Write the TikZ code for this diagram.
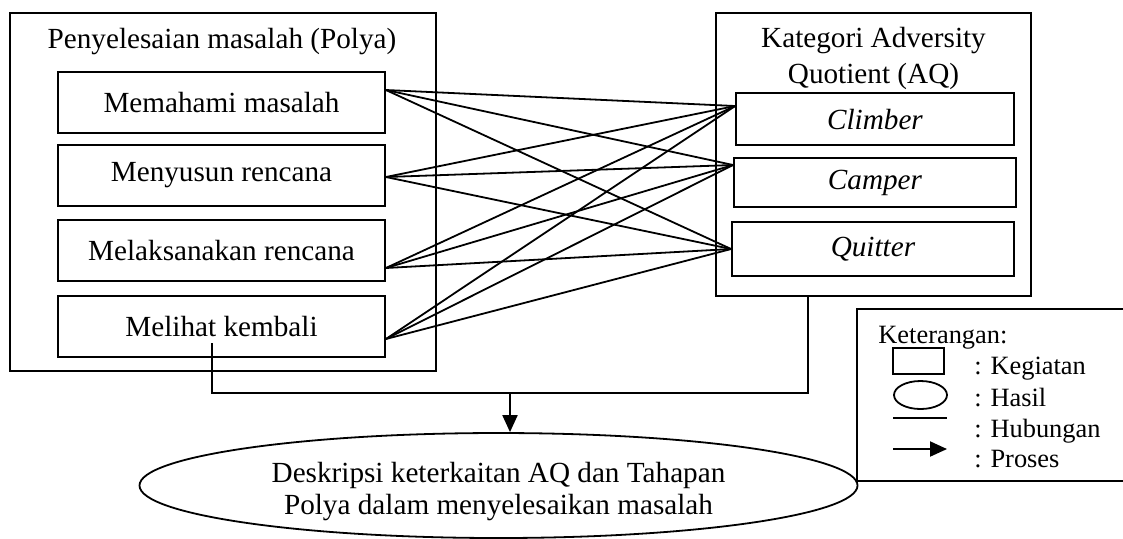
\documentclass[tikz,border=0pt]{standalone}
\usepackage{fontspec}
\setmainfont{Liberation Serif}
\usetikzlibrary{shapes.geometric,arrows.meta}

\tikzset{
    kotak/.style={draw, line width=0.9pt, inner sep=0pt},
    hasil/.style={draw, ellipse, line width=0.9pt, inner sep=0pt},
    hubungan/.style={line width=0.9pt},
    proses/.style={line width=1pt, -{Triangle[length=8.5pt,width=7.5pt]}}
}

\begin{document}
\begin{tikzpicture}[x=0.5pt,y=-0.5pt]
        \useasboundingbox (0,0) rectangle (1123,538);
        \fontsize{14.6}{18}\selectfont

        % tahapan Polya
        \node[kotak, minimum width=213pt, minimum height=179pt] (polya) at (223,192) {};
        \node (judulpolya) at (222,42) {Penyelesaian masalah (Polya)};
        \node[kotak, minimum width=163.5pt, minimum height=30.5pt] (memahami) at (221.5,102.5) {Memahami masalah};
        \node[kotak, minimum width=163.5pt, minimum height=30.5pt] (menyusun) at (221.5,175.5) {Menyusun rencana};
        \node[kotak, minimum width=163.5pt, minimum height=30.5pt] (melaksanakan) at (221.5,250.5) {Melaksanakan rencana};
        \node[kotak, minimum width=163.5pt, minimum height=30.5pt] (melihat) at (221.5,326.5) {Melihat kembali};

        % kategori AQ
        \node[kotak, minimum width=157.5pt, minimum height=141.5pt] (aq) at (873.5,154.5) {};
        \node[align=center] (judulaq) at (873.5,58) {Kategori Adversity\\Quotient (AQ)};
        \node[kotak, minimum width=139pt, minimum height=26pt] (climber) at (875,119) {\textit{Climber}};
        \node[kotak, minimum width=141pt, minimum height=24.5pt] (camper) at (875,182.5) {\textit{Camper}};
        \node[kotak, minimum width=141pt, minimum height=27pt] (quitter) at (873,249) {\textit{Quitter}};

        % hasil
        \node[hasil, minimum width=359pt, minimum height=52.5pt, align=center,
              font=\fontsize{14.6}{16}\selectfont] (deskripsi) at (498.5,485.5)
              {\rule{0pt}{16.5pt}Deskripsi keterkaitan AQ dan Tahapan\\Polya dalam menyelesaikan masalah};

        % hubungan
        \coordinate (a1) at ([yshift=6.25pt]memahami.east);
        \coordinate (a2) at ([yshift=-0.75pt]menyusun.east);
        \coordinate (a3) at ([yshift=-8.75pt]melaksanakan.east);
        \coordinate (a4) at ([yshift=-6.25pt]melihat.east);
        \coordinate (b1) at ([yshift=6.5pt]climber.west);
        \coordinate (b2) at ([yshift=8.75pt]camper.west);
        \coordinate (b3) at (quitter.west);
        \draw[hubungan] (a1) -- (b1);
        \draw[hubungan] (a1) -- (b2);
        \draw[hubungan] (a1) -- (b3);
        \draw[hubungan] (a2) -- (b1);
        \draw[hubungan] (a2) -- (b2);
        \draw[hubungan] (a2) -- (b3);
        \draw[hubungan] (a3) -- (b1);
        \draw[hubungan] (a3) -- (b2);
        \draw[hubungan] (a3) -- (b3);
        \draw[hubungan] (a4) -- (b1);
        \draw[hubungan] (a4) -- (b2);
        \draw[hubungan] (a4) -- (b3);

        % proses
        \coordinate (c1) at ([xshift=-4.75pt,yshift=-8.25pt]melihat.center);
        \coordinate (c2) at (510,393);
        \coordinate (c3) at ([xshift=-32.75pt]aq.south);
        \draw[hubungan] (c1) |- (c2) -| (c3);
        \draw[proses] (c2) -- (c2 |- deskripsi.north);

        % keterangan
        \draw[hubungan] (1123,309) -- (857,309) -- (857,481) -- (1123,481);
        \fontsize{13.2}{16}\selectfont
        \node[anchor=base west, inner sep=0pt] (keterangan) at (878,343) {Keterangan:};
        \node[kotak, minimum width=25.5pt, minimum height=13pt] (ikonkotak) at (918.5,361) {};
        \node[hasil, minimum width=26.5pt, minimum height=14pt] (ikonelips) at (920.5,395) {};
        \draw[hubungan] (893,418) -- (947,418);
        \draw[proses] (893,449) -- (947,449);
        \node[anchor=base west, inner sep=0pt] (kegiatan) at (974,374) {: Kegiatan};
        \node[anchor=base west, inner sep=0pt] (hasilket) at (974,406) {: Hasil};
        \node[anchor=base west, inner sep=0pt] (hubunganket) at (974,437) {: Hubungan};
        \node[anchor=base west, inner sep=0pt] (prosesket) at (974,467) {: Proses};
\end{tikzpicture}
\end{document}
